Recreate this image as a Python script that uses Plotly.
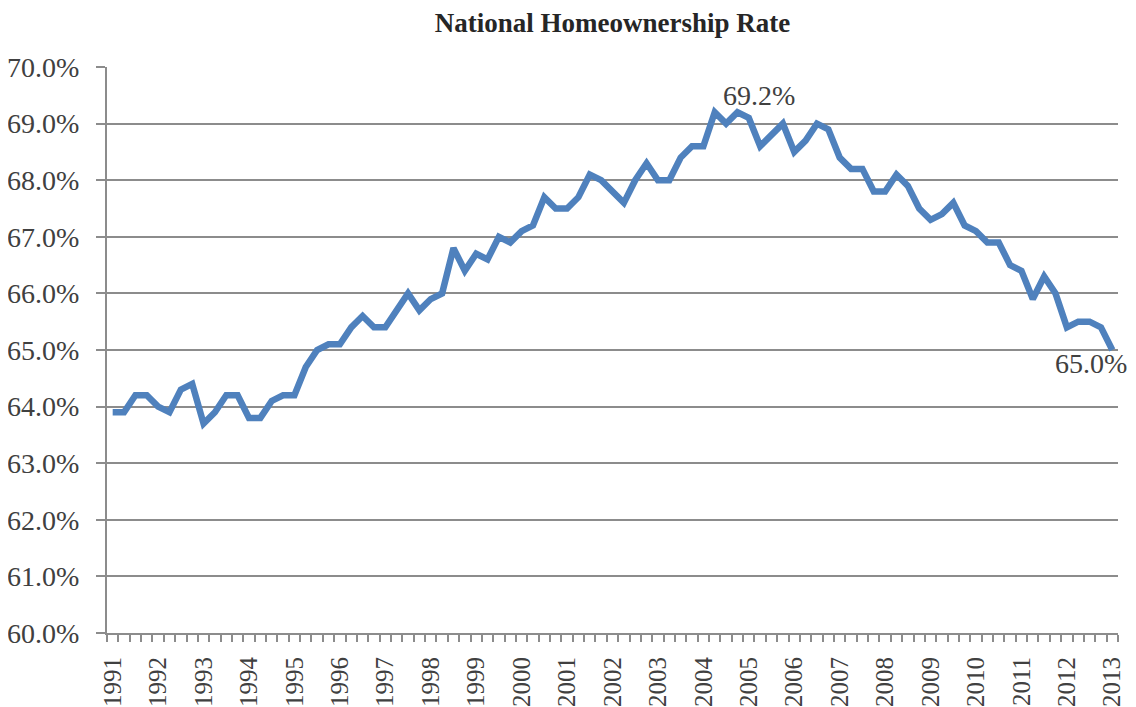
import plotly.graph_objects as go

# ---- data -------------------------------------------------------------
years = list(range(1991, 2014))
quarters = [f"{y} Q{q}" for y in years for q in range(1, 5)][:89]  # 1991 Q1 .. 2013 Q1
rate = [
    63.9, 63.9, 64.2, 64.2,   # 1991
    64.0, 63.9, 64.3, 64.4,   # 1992
    63.7, 63.9, 64.2, 64.2,   # 1993
    63.8, 63.8, 64.1, 64.2,   # 1994
    64.2, 64.7, 65.0, 65.1,   # 1995
    65.1, 65.4, 65.6, 65.4,   # 1996
    65.4, 65.7, 66.0, 65.7,   # 1997
    65.9, 66.0, 66.8, 66.4,   # 1998
    66.7, 66.6, 67.0, 66.9,   # 1999
    67.1, 67.2, 67.7, 67.5,   # 2000
    67.5, 67.7, 68.1, 68.0,   # 2001
    67.8, 67.6, 68.0, 68.3,   # 2002
    68.0, 68.0, 68.4, 68.6,   # 2003
    68.6, 69.2, 69.0, 69.2,   # 2004
    69.1, 68.6, 68.8, 69.0,   # 2005
    68.5, 68.7, 69.0, 68.9,   # 2006
    68.4, 68.2, 68.2, 67.8,   # 2007
    67.8, 68.1, 67.9, 67.5,   # 2008
    67.3, 67.4, 67.6, 67.2,   # 2009
    67.1, 66.9, 66.9, 66.5,   # 2010
    66.4, 65.9, 66.3, 66.0,   # 2011
    65.4, 65.5, 65.5, 65.4,   # 2012
    65.0,                     # 2013
]
year_labels = [str(y) for y in years]
y_ticks = [60, 61, 62, 63, 64, 65, 66, 67, 68, 69, 70]

# ---- figure -----------------------------------------------------------
idx = list(range(len(rate)))
grey = "#8c8c8c"
serif = "Liberation Serif, Times New Roman, serif"

fig = go.Figure()
fig.add_trace(go.Scatter(
    x=idx, y=rate, mode="lines",
    line=dict(color="#4F81BD", width=6.5),
    customdata=quarters,
    hovertemplate="%{customdata}: %{y:.1f}%<extra></extra>",
    showlegend=False,
))

peak_i = rate.index(max(rate))
last_i = len(rate) - 1
fig.add_annotation(x=peak_i, y=rate[peak_i], text=f"{rate[peak_i]:.1f}%",
                   showarrow=False, xanchor="left", yanchor="middle",
                   xshift=6, yshift=17,
                   font=dict(family=serif, size=28, color="#404040"))
fig.add_annotation(x=last_i, y=rate[last_i], text=f"{rate[last_i]:.1f}%",
                   showarrow=False, xanchor="right", yanchor="middle",
                   xshift=17, yshift=-13,
                   font=dict(family=serif, size=28, color="#404040"))

fig.update_layout(
    width=1136, height=707,
    margin=dict(l=99, r=26, t=59, b=82, autoexpand=False),
    paper_bgcolor="white", plot_bgcolor="white",
    title=dict(text="<b>National Homeownership Rate</b>",
               x=0.5, xref="paper", xanchor="center",
               y=1 - 15 / 707, yref="container", yanchor="middle",
               automargin=False,
               font=dict(family=serif, size=27, color="#262626")),
    xaxis=dict(
        range=[-0.5, len(rate) - 0.5],
        automargin=False,
        tickmode="array",
        tickvals=[4 * i for i in range(len(year_labels))],
        ticktext=year_labels,
        tickangle=-90,
        ticks="",
        ticklabelstandoff=12,
        tickfont=dict(family=serif, size=25, color="#404040"),
        showgrid=False, zeroline=False,
        showline=True, linecolor=grey, linewidth=2,
        minor=dict(ticks="outside", tick0=-0.5, dtick=1, ticklen=7,
                   tickcolor=grey, tickwidth=2, showgrid=False),
    ),
    yaxis=dict(
        range=[60, 70],
        automargin=False,
        tickmode="array",
        tickvals=y_ticks,
        ticktext=[f"{v:.1f}%" for v in y_ticks],
        ticks="outside", ticklen=9, tickcolor=grey, tickwidth=2,
        ticklabelstandoff=11,
        tickfont=dict(family=serif, size=28, color="#404040"),
        showgrid=True, gridcolor=grey, gridwidth=2,
        zeroline=False,
        showline=True, linecolor=grey, linewidth=2,
    ),
)

fig.write_html("out.html")
